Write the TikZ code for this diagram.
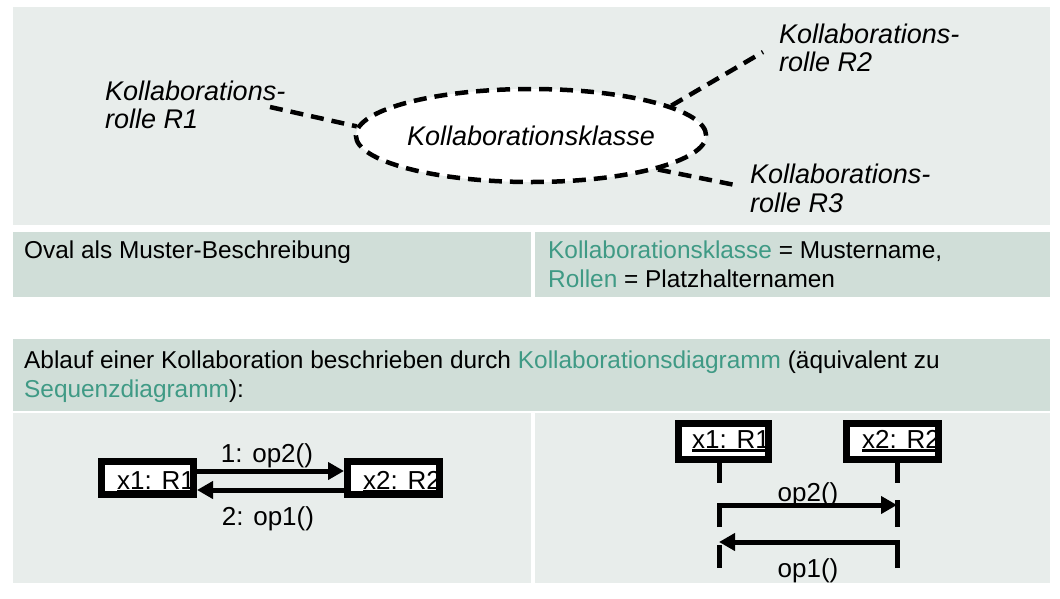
\documentclass[tikz,border=0pt]{standalone}
\usepackage{fontspec}
\setmainfont{Liberation Sans}
\usetikzlibrary{shapes.geometric,arrows.meta,calc}
\definecolor{panel}{HTML}{E8EDEB}
\definecolor{band}{HTML}{D0DED8}
\definecolor{accent}{HTML}{3F9A85}
% heavy underline for object names
\newcommand\objul[1]{\setbox0=\hbox{#1}\rlap{\rule[-3.5pt]{\wd0}{2.2pt}}\box0}
\begin{document}
\begin{tikzpicture}[x=1pt,y=-1pt,
  klasse/.style={ellipse, draw, fill=white, line width=4.5pt, dash pattern=on 13pt off 8pt,
    minimum width=338pt, minimum height=93pt, inner sep=0pt,
    font=\fontsize{27}{32}\selectfont\itshape},
  role/.style={anchor=base west, inner sep=0pt, font=\fontsize{27}{32}\selectfont\itshape},
  roleline/.style={line width=4.5pt, dash pattern=on 13pt off 8pt},
  txt/.style={anchor=base west, inner sep=0pt, font=\fontsize{24.4}{29}\selectfont},
  objbox/.style={draw, fill=white, line width=7pt, minimum width=92pt, minimum height=33pt, inner sep=0pt},
  objtext/.style={anchor=base west, inner sep=0pt, font=\fontsize{26}{30}\selectfont},
  msgtext/.style={anchor=base, inner sep=0pt, font=\fontsize{26}{30}\selectfont},
  msg/.style={line width=5pt, -{Triangle[length=16pt,width=17pt]}},
  lifeline/.style={line width=5pt}]
\useasboundingbox (0,0) rectangle (1060,598);
\fill[white] (0,0) rectangle (1060,598);

% panels and bands
\fill[panel] (13,7) rectangle (1050,225);
\fill[band] (13,232) rectangle (531,297);
\fill[band] (535,232) rectangle (1050,297);
\fill[band] (13,339) rectangle (1050,411);
\fill[panel] (13,413) rectangle (531,583);
\fill[panel] (535,413) rectangle (1050,583);

% pattern oval with its roles
\node[klasse] (k) at (531,135.5) {Kollaborationsklasse};
\node[role] (r1) at (105,100) {Kollaborations-};
\node[role] (r1b) at (105,128) {rolle R1};
\node[role] (r2) at (779,43) {Kollaborations-};
\node[role] (r2b) at (779,71) {rolle R2};
\node[role] (r3) at (750,183) {Kollaborations-};
\node[role] (r3b) at (750,212) {rolle R3};
\coordinate (c1) at (270,107);
\coordinate (c2) at (763,52);
\coordinate (c3) at (735,185);
\draw[roleline] (c1) -- (k.177);
\draw[roleline] (k.12.6) -- (c2);
\draw[roleline] (k.345) -- (c3);

% table texts
\node[txt] (o1) at (24,258) {Oval als Muster-Beschreibung};
\node[txt] (o2) at (548,258) {\textcolor{accent}{Kollaborationsklasse} = Mustername,};
\node[txt] (o3) at (548,287) {\textcolor{accent}{Rollen} = Platzhalternamen};
\node[txt] (h1) at (24,368) {Ablauf einer Kollaboration beschrieben durch \textcolor{accent}{Kollaborationsdiagramm} (äquivalent zu};
\node[txt] (h2) at (24,397) {\textcolor{accent}{Sequenzdiagramm}):};

% collaboration diagram
\node[objbox] (b1) at (147.5,478) {};
\begin{scope}
  \clip ([shift={(7pt,7pt)}]b1.south west) rectangle ([shift={(-7pt,-7pt)}]b1.north east);
  \node[objtext] (t1) at (117,489) {\objul{x1: R1}};
\end{scope}
\node[objbox] (b2) at (393.5,478) {};
\begin{scope}
  \clip ([shift={(7pt,7pt)}]b2.south west) rectangle ([shift={(-7pt,-7pt)}]b2.north east);
  \node[objtext] (t2) at (363,489) {\objul{x2: R2}};
\end{scope}
\draw[msg] ([yshift=7pt]b1.east) -- ([yshift=7pt]b2.west);
\draw[msg] ([yshift=-12pt]b2.west) -- ([yshift=-12pt]b1.east);
\node[msgtext] (m1) at (267,462) {1: op2()};
\node[msgtext] (m2) at (268,525) {2: op1()};

% sequence diagram
\node[objbox, minimum width=90pt, minimum height=36pt] (b3) at (723.5,441.5) {};
\begin{scope}
  \clip ([shift={(7pt,7pt)}]b3.south west) rectangle ([shift={(-7pt,-7pt)}]b3.north east);
  \node[objtext] (t3) at (692,448) {\objul{x1: R1}};
\end{scope}
\node[objbox, minimum width=92pt, minimum height=36pt] (b4) at (892.5,441.5) {};
\begin{scope}
  \clip ([shift={(7pt,7pt)}]b4.south west) rectangle ([shift={(-7pt,-7pt)}]b4.north east);
  \node[objtext] (t4) at (862,448) {\objul{x2: R2}};
\end{scope}
\coordinate (l1a) at (719,463);   \coordinate (l1b) at (719,483);
\coordinate (l1c) at (719,527);   \coordinate (l1d) at (719,505);
\coordinate (l1e) at (719,545);   \coordinate (l1f) at (719,568);
\coordinate (l2a) at (897,463);   \coordinate (l2b) at (897,483);
\coordinate (l2c) at (897,500);   \coordinate (l2d) at (897,527);
\coordinate (l2e) at (897,568);   \coordinate (l2f) at (897,542);
\coordinate (l2g) at (897,505);   \coordinate (l1g) at (719,542);
\draw[lifeline] (l1a) -- (l1b);
\draw[lifeline] (l2a) -- (l2b);
\draw[lifeline] (l2c) -- (l2d);
\draw[lifeline] (l1e) -- (l1f);
\draw[msg] (l1c) -- (l1d) -- (l2g);
\draw[msg] (l2e) -- (l2f) -- (l1g);
\node[msgtext] (m3) at (808,501) {op2()};
\node[msgtext] (m4) at (808,577) {op1()};
\end{tikzpicture}
\end{document}
